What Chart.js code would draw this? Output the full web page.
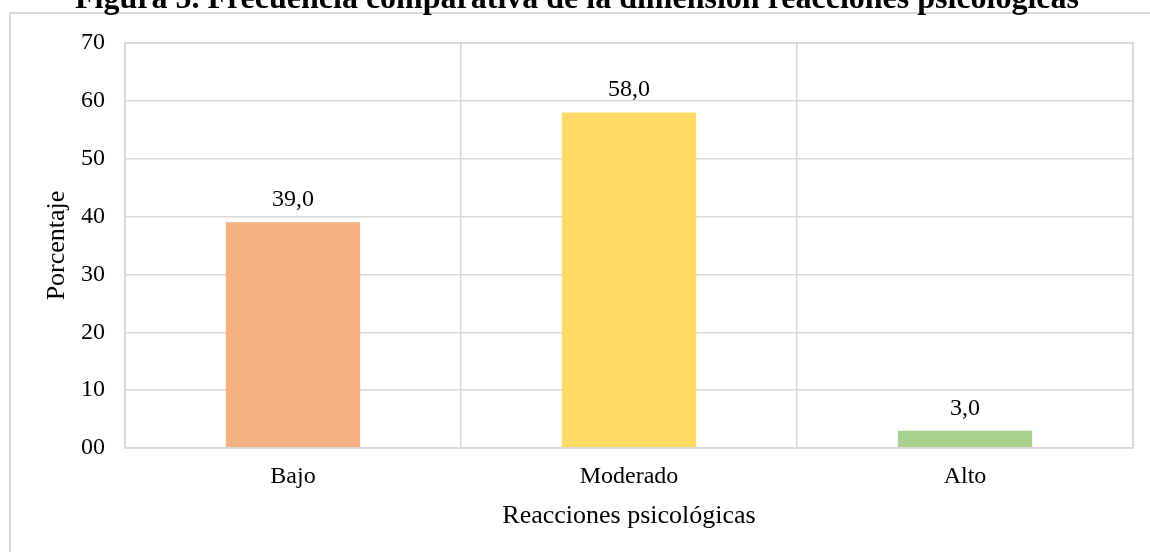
<!DOCTYPE html>
<html>
<head>
<meta charset="utf-8">
<script src="https://cdn.jsdelivr.net/npm/chart.js@4"></script>
<style>
  html, body { margin: 0; padding: 0; background: #fff; }
  #wrap { width: 1150px; height: 552px; }
</style>
</head>
<body>
<div id="wrap"><canvas id="myBarChart" width="1150" height="552"></canvas></div>
<script>
// chart data
const categories = ['Bajo', 'Moderado', 'Alto'];
const porcentajes = [39.0, 58.0, 3.0];
const barColors = ['#F4B183', '#FFD966', '#A9D18E'];
const yTicks = ['00', '10', '20', '30', '40', '50', '60', '70'];

const titleText = 'Figura 5. Frecuencia comparativa de la dimensión reacciones psicológicas';
const serif = '"Liberation Serif", "Times New Roman", serif';
const gridGray = '#d9d9d9';

// outer frame + clipped title, drawn by hand
const framePlugin = {
    id: 'frame',
    beforeDraw(chart) {
        const ctx = chart.ctx;
        ctx.save();
        ctx.strokeStyle = gridGray;
        ctx.lineWidth = 2;
        ctx.beginPath();
        ctx.moveTo(10, 552);
        ctx.lineTo(10, 13);
        ctx.lineTo(1150, 13);
        ctx.stroke();
        ctx.restore();
    },
    afterDraw(chart) {
        const a = chart.chartArea;
        const ctx = chart.ctx;
        ctx.save();
        // box around plot area
        ctx.strokeStyle = gridGray;
        ctx.lineWidth = 1.5;
        ctx.strokeRect(a.left, a.top, a.right - a.left, a.bottom - a.top);
        // title sits above the frame and is cut off by the page edge
        ctx.fillStyle = '#000';
        ctx.font = 'bold 32px ' + serif;
        ctx.textAlign = 'center';
        ctx.textBaseline = 'alphabetic';
        ctx.fillText(titleText, 577, 8);
        ctx.restore();
    }
};

// value labels above bars
const valueLabels = {
    id: 'valueLabels',
    afterDatasetsDraw(chart) {
        const ctx = chart.ctx;
        const meta = chart.getDatasetMeta(0);
        ctx.save();
        ctx.fillStyle = '#000';
        ctx.font = '24px ' + serif;
        ctx.textAlign = 'center';
        ctx.textBaseline = 'alphabetic';
        meta.data.forEach((bar, i) => {
            ctx.fillText(porcentajes[i].toFixed(1).replace('.', ','), bar.x, bar.y - 16);
        });
        ctx.restore();
    }
};

const ctx = document.getElementById('myBarChart').getContext('2d');
const myBarChart = new Chart(ctx, {
    type: 'bar',
    data: {
        labels: categories,
        datasets: [{
            label: 'Porcentaje',
            data: porcentajes,
            backgroundColor: barColors,
            borderWidth: 0,
            categoryPercentage: 1.0,
            barPercentage: 0.4
        }]
    },
    options: {
        responsive: false,
        animation: false,
        layout: {
            padding: { left: 10, top: 43, right: 17, bottom: 0 }
        },
        plugins: {
            legend: { display: false },
            tooltip: { enabled: false }
        },
        scales: {
            x: {
                grid: { display: true, offset: true, color: gridGray, lineWidth: 1.5, drawTicks: false },
                border: { display: false },
                ticks: { color: '#000', font: { family: serif, size: 24 }, padding: 14 },
                title: {
                    display: true,
                    text: 'Reacciones psicológicas',
                    color: '#000',
                    font: { family: serif, size: 26 },
                    padding: { top: 0, bottom: 20 }
                },
                afterFit(scale) { scale.height = 104; }
            },
            y: {
                min: 0,
                max: 70,
                grid: { color: gridGray, lineWidth: 1.5, drawTicks: false },
                border: { display: false },
                ticks: {
                    stepSize: 10,
                    color: '#000',
                    padding: 20,
                    font: { family: serif, size: 24 },
                    callback: function(value) {
                        return yTicks[value / 10];
                    }
                },
                title: {
                    display: true,
                    text: 'Porcentaje',
                    color: '#000',
                    font: { family: serif, size: 26 },
                    padding: { top: 32, bottom: 0 }
                },
                afterFit(scale) { scale.width = 115; }
            }
        }
    },
    plugins: [framePlugin, valueLabels]
});
</script>
</body>
</html>
